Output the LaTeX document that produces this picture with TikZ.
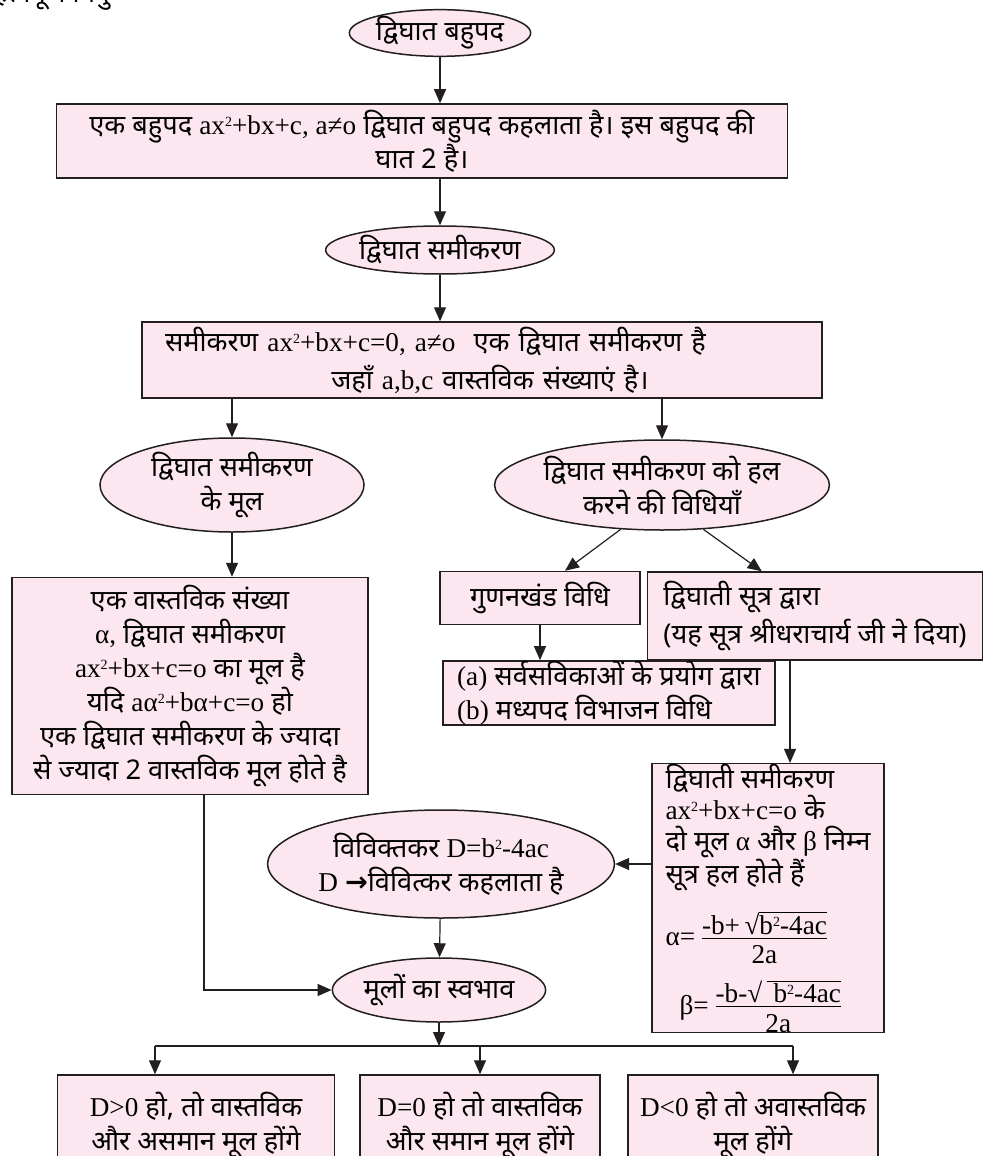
\documentclass[tikz,border=0pt]{standalone}
\usepackage{fontspec}
\setmainfont{Noto Sans}[Script=Devanagari]
\newfontfamily\tm{Liberation Serif}
\newfontfamily\dv{DejaVu Sans}
\usetikzlibrary{shapes.geometric,arrows.meta}
\newlength{\pix}
\setlength{\pix}{0.5pt}
\definecolor{pinkfill}{RGB}{252,231,241}
\definecolor{inkline}{RGB}{35,31,32}
\newcommand{\lt}[1]{{\tm #1}}
\newcommand{\sq}{\raisebox{0.62ex}{\fontsize{7}{7}\selectfont 2}}

\tikzset{
  box/.style={draw=inkline, fill=pinkfill, line width=0.75pt, inner sep=0pt, align=center},
  oval/.style={ellipse, draw=inkline, fill=pinkfill, line width=0.75pt, inner sep=0pt, align=center},
  arr/.style={draw=inkline, line width=0.6pt, -{Triangle[length=7pt,width=6pt]}},
}

\begin{document}
\begin{tikzpicture}[x=0.5pt, y=-0.5pt, font=\fontsize{13.6}{17}\selectfont]
  \path[use as bounding box, clip] (0,0) rectangle (985,1156);
  \fill[white] (0,0) rectangle (985,1156);

  % heading, cut by the page edge
  \node[anchor=base east, inner sep=0pt] (hdr) at (110,3) {महत्वपूर्ण बिंदु};

  % polynomial and equation
  \node[oval, minimum width=180\pix, minimum height=40\pix] (e1) at (440,33) {द्विघात बहुपद};
  \node[box, minimum width=731\pix, minimum height=74\pix] (b1) at (422,141)
    {एक बहुपद \lt{ax\sq+bx+c, a≠o} द्विघात बहुपद कहलाता है। इस बहुपद की\\घात 2 है।};
  \node[oval, minimum width=172\pix, minimum height=48\pix] (e2) at (440,250) {द्विघात समीकरण};
  \node[box, minimum width=680\pix, minimum height=76\pix, text width=634\pix, align=left] (b2) at (482,360)
    {समीकरण \lt{ax\sq+bx+c=0, a≠o}\ \ एक द्विघात समीकरण है\\[2pt]
     \makebox[634\pix][c]{\hspace{8pt}जहाँ \lt{a,b,c} वास्तविक संख्याएं है।}};

  % roots and methods
  \node[oval, minimum width=264\pix, minimum height=94\pix] (e3) at (232,485) {द्विघात समीकरण\\के मूल};
  \node[oval, minimum width=285\pix, minimum height=90\pix] (e4) at (662,485) {द्विघात समीकरण को हल\\करने की विधियाँ};
  \node[box, minimum width=200\pix, minimum height=53\pix] (g) at (540,598) {गुणनखंड विधि};
  \node[box, minimum width=335\pix, minimum height=88\pix, align=left] (s) at (815,616)
    {द्विघाती सूत्र द्वारा\\[2pt](यह सूत्र श्रीधराचार्य जी ने दिया)};
  \node[box, minimum width=332\pix, minimum height=58\pix, align=left] (ab) at (609,693)
    {\lt{(a)} सर्वसविकाओं के प्रयोग द्वारा\\\lt{(b)} मध्यपद विभाजन विधि};
  \node[box, minimum width=356\pix, minimum height=217\pix] (L) at (190,686)
    {एक वास्तविक संख्या\\\lt{α,} द्विघात समीकरण\\\lt{ax\sq+bx+c=o} का मूल है\\
     यदि \lt{aα\sq+bα+c=o} हो\\एक द्विघात समीकरण के ज्यादा\\से ज्यादा 2 वास्तविक मूल होते है};
  \node[box, minimum width=232\pix, minimum height=263\pix, align=left,
        font=\fontsize{13.6}{15.5}\selectfont] (f) at (768,898)
    {द्विघाती समीकरण\\\lt{ax\sq+bx+c=o} के\\दो मूल \lt{α} और \lt{β} निम्न\\
     सूत्र हल होते हैं\\[9pt]
     \lt{α=}\,$\frac{\hbox{\tm -b+\,√}\overline{\hbox{\tm b\sq-4ac}}}{\hbox{\tm\rule{0pt}{12pt}2a}}$\\[7pt]
     \hspace*{7pt}\lt{β=}\,$\frac{\hbox{\tm -b-√\,}\overline{\hbox{\tm\ b\sq-4ac}}}{\hbox{\tm\rule{0pt}{12pt}2a}}$};

  % discriminant and nature of roots
  \node[oval, minimum width=318\pix, minimum height=108\pix] (e5) at (441,864)
    {विविक्तकर \lt{D=b\sq-4ac}\\\lt{D} {\dv\bfseries →}विवित्कर कहलाता है};
  \node[oval, minimum width=192\pix, minimum height=64\pix] (e6) at (439,990) {मूलों का स्वभाव};
  \node[box, minimum width=277\pix, minimum height=100\pix] (B1) at (196,1125)
    {\lt{D>0} हो, तो वास्तविक\\और असमान मूल होंगे};
  \node[box, minimum width=240\pix, minimum height=100\pix] (B2) at (480,1125)
    {\lt{D=0} हो तो वास्तविक\\और समान मूल होंगे};
  \node[box, minimum width=250\pix, minimum height=100\pix] (B3) at (753,1125)
    {\lt{D<0} हो तो अवास्तविक\\मूल होंगे};

  % connectors
  \coordinate (sx) at (790,0);
  \coordinate (lx) at (204,0);
  \coordinate (hL) at (155,1046);
  \coordinate (hR) at (793,1046);
  \draw[arr] (e1) -- (b1.north -| e1);
  \draw[arr] (b1.south -| e1) -- (e2);
  \draw[arr] (e2) -- (b2.north -| e2);
  \draw[arr] (b2.south -| e3) -- (e3);
  \draw[arr] (b2.south -| e4) -- (e4);
  \draw[arr] (e3) -- (L.north -| e3);
  \draw[arr] (e4.-133) -- ([xshift=12.5pt]g.north);
  \draw[arr] (e4.-47) -- ([xshift=57.5pt]s.north west);
  \draw[arr] (g) -- (g.south |- ab.north);
  \draw[arr] (s.south -| sx) -- (f.north -| sx);
  \draw[arr] (e5.east -| f.west) -- (e5.east);
  \draw[arr] (e5) -- (e6);
  \draw[arr] (L.south -| lx) |- (e6.west);
  \draw[arr] (e6) -- (e6.south |- hL);
  \draw[draw=inkline, line width=0.6pt] (hL) -- (hR);
  \draw[arr] (hL) -- (hL |- B1.north);
  \draw[arr] (B2.north |- hL) -- (B2.north);
  \draw[arr] (hR) -- (hR |- B3.north);
\end{tikzpicture}
\end{document}
